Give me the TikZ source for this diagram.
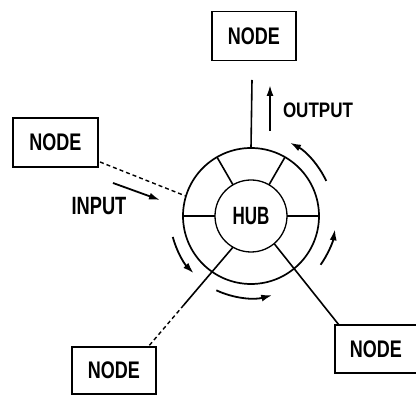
\documentclass[tikz,border=0pt]{standalone}
\usepackage{fontspec}
\setmainfont{Liberation Sans}
\usepackage{graphicx}
\usetikzlibrary{arrows.meta,calc}
\newcommand\cnd[2]{\scalebox{#1}[1]{#2}}
\begin{document}
\begin{tikzpicture}[x=1pt,y=1pt,
  box/.style={draw, line width=1.6pt, minimum width=84pt, minimum height=49pt, inner sep=0pt, outer sep=0pt,
    font=\fontsize{24}{24}\selectfont\bfseries},
  lbl/.style={inner sep=0pt, outer sep=0pt},
  ln/.style={line width=1.6pt},
  dsh/.style={line width=1.4pt, dash pattern=on 4pt off 3pt},
  arr/.style={line width=1.8pt, -{Latex[length=11pt,width=7pt]}}]
\useasboundingbox (0,0) rectangle (416,-395);

% hub
\coordinate (C) at (251,-216);
\node[draw, circle, line width=1.7pt, minimum size=136pt, inner sep=0pt, outer sep=0pt] (ring) at (C) {};
\node[draw, circle, line width=1.3pt, minimum size=72pt, inner sep=0pt, outer sep=0pt,
  font=\fontsize{25}{25}\selectfont\bfseries] (hub) at (C) {\cnd{0.68}{HUB}};

% spokes
\draw[ln] (hub.0) -- (ring.0);
\draw[ln] (hub.180) -- (ring.180);
\draw[ln] (hub.60) -- (ring.60);
\draw[ln] (hub.120) -- (ring.120);

% boxes
\node[box] (nt) at (254,-36) {\cnd{0.75}{NODE}};
\node[box, minimum width=85pt] (nl) at (55.5,-142.5) {\cnd{0.75}{NODE}};
\node[box, minimum height=47pt] (nbl) at (114,-370.5) {\cnd{0.75}{NODE}};
\node[box, minimum width=82pt, minimum height=48pt] (nbr) at (376,-349) {\cnd{0.75}{NODE}};

% top connector and output
\coordinate (topend) at (252,-80);
\draw[ln] (ring.north) -- (topend);
\coordinate (outS) at (270,-131);
\coordinate (outE) at (270,-85);
\draw[arr] (outS) -- (outE);
\node[lbl, anchor=west, font=\fontsize{21}{21}\selectfont\bfseries] (out) at (283,-110) {\cnd{0.81}{OUTPUT}};

% left connector and input
\coordinate (ldash) at (100,-162);
\draw[dsh] (ldash) -- (ring.163);
\coordinate (inS) at (113,-183);
\coordinate (inE) at (160,-200);
\draw[arr] (inS) -- (inE);
\node[lbl, font=\fontsize{25}{25}\selectfont\bfseries] (in) at (99,-206) {\cnd{0.73}{INPUT}};

% bottom-left connector
\coordinate (blmid) at (183.8,-305);
\coordinate (blend) at (148,-347);
\draw[ln] (hub.240) -- (blmid);
\draw[dsh] (blmid) -- (blend);

% bottom-right connector
\coordinate (brend) at (339,-325);
\draw[ln] (hub.-50) -- (brend);

% circulating arrows
\draw[arr] ([shift={(25:83)}]C) arc[start angle=25, end angle=62, radius=83];
\draw[arr] ([shift={(-35:85)}]C) arc[start angle=-35, end angle=-9, radius=85];
\draw[arr] ([shift={(195:81)}]C) arc[start angle=195, end angle=225, radius=81];
\draw[arr] ([shift={(-115:82)}]C) arc[start angle=-115, end angle=-75, radius=82];
\end{tikzpicture}
\end{document}
